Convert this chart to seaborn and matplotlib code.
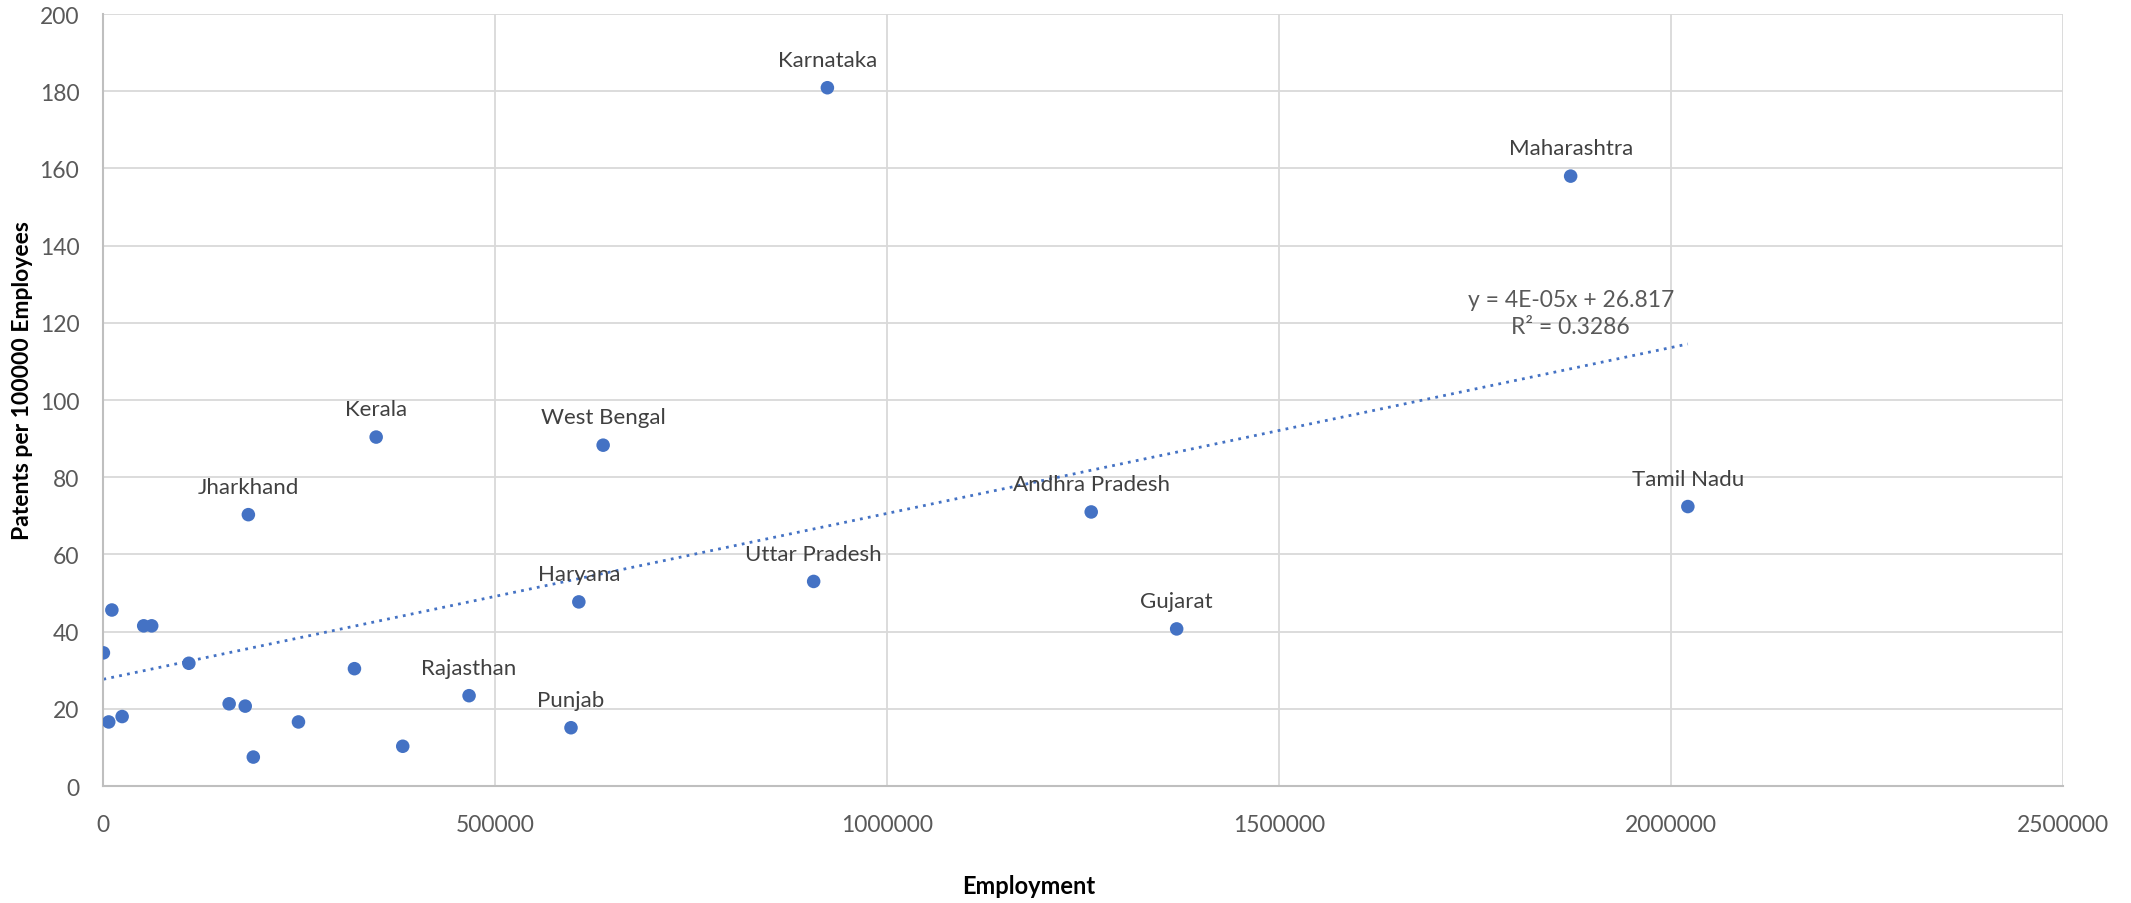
import numpy as np
import pandas as pd
import matplotlib
matplotlib.use("Agg")
import matplotlib.pyplot as plt
import seaborn as sns

# Employment vs. patents per 100000 employees, by state
states = ["Karnataka", "Maharashtra", "Tamil Nadu", "Andhra Pradesh", "Gujarat",
          "Uttar Pradesh", "West Bengal", "Kerala", "Jharkhand", "Haryana",
          "Rajasthan", "Punjab",
          "", "", "", "", "", "", "", "", "", "", "", "", ""]
employment = [924000, 1872000, 2021500, 1260500, 1369500,
              906500, 638000, 348500, 185500, 607000,
              467000, 597000,
              11400, 52000, 62200, 600, 109600, 7400, 24500,
              161000, 181500, 191800, 249400, 320800, 382400]
patents = [180.9, 158.0, 72.4, 71.0, 40.7,
           53.0, 88.3, 90.4, 70.3, 47.7,
           23.4, 15.1,
           45.6, 41.5, 41.5, 34.5, 31.8, 16.6, 18.0,
           21.3, 20.7, 7.5, 16.6, 30.4, 10.3]

trend_labels = ["y = 4E-05x + 26.817", "R\u00b2 = 0.3286"]
x_ticks = [0, 500000, 1000000, 1500000, 2000000, 2500000]
y_ticks = list(range(0, 201, 20))

df = pd.DataFrame({"State": states, "Employment": employment,
                   "Patents": patents})

sns.set_theme(style="white")
plt.rcParams["font.family"] = ["Lato", "DejaVu Sans"]

blue = "#4472C4"
grey_text = "#595959"

fig = plt.figure(figsize=(21.31, 9.04), dpi=100)
ax = fig.add_axes([0.0483, 0.1294, 0.9198, 0.854])

ax.grid(True, color="#d9d9d9", linewidth=1.3, zorder=0)
ax.set_axisbelow(True)

# linear trendline over the data range
sns.regplot(data=df, x="Employment", y="Patents", ax=ax, scatter=False,
            ci=None, truncate=True,
            line_kws=dict(color=blue, linewidth=2.0, linestyle=(0, (1, 1.9)),
                          dash_capstyle="butt", zorder=2))
sns.scatterplot(data=df, x="Employment", y="Patents", ax=ax, color=blue,
                s=95, edgecolor="none", zorder=3)

for name, xv, yv in zip(states, employment, patents):
    if name:
        ax.annotate(name, (xv, yv), xytext=(0, 20), textcoords="offset points",
                    ha="center", va="center", fontsize=16, color="#404040")

ax.text(1872000, 126.0, trend_labels[0], ha="center", va="center",
        fontsize=16.5, color=grey_text)
ax.text(1872000, 119.0, trend_labels[1], ha="center", va="center",
        fontsize=16.5, color=grey_text)

ax.set_xlim(0, 2500000)
ax.set_ylim(0, 200)
ax.set_xticks(x_ticks)
ax.set_yticks(y_ticks)
ax.set_xticklabels([str(t) for t in x_ticks])
ax.set_yticklabels([str(t) for t in y_ticks])
ax.tick_params(axis="both", length=0, labelsize=16.5, labelcolor=grey_text)
ax.tick_params(axis="x", pad=20)
ax.tick_params(axis="y", pad=17)

for side in ["top", "right"]:
    ax.spines[side].set_visible(False)
for side in ["left", "bottom"]:
    ax.spines[side].set_color("#bfbfbf")
    ax.spines[side].set_linewidth(1.5)

ax.set_xlabel("Employment", fontsize=17, fontweight="bold", color="black")
ax.set_ylabel("Patents per 100000 Employees", fontsize=16.5, fontweight="bold",
              color="black")
ax.xaxis.set_label_coords(0.4724, -0.114)
ax.yaxis.set_label_coords(-0.0355, 0.526)

fig.savefig("out.png", dpi=100)
